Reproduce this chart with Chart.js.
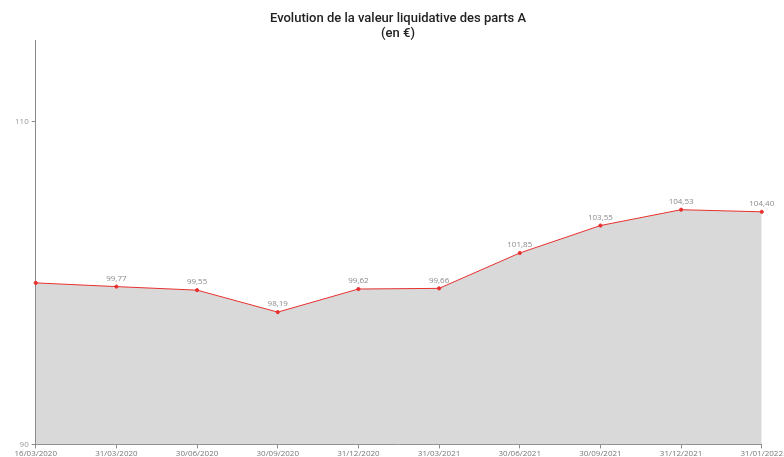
<!DOCTYPE html>
<html lang="fr">
  <head>
    <meta charset="UTF-8" />
    <title>Evolution de la valeur liquidative des parts A</title>
    <script src="https://cdn.jsdelivr.net/npm/chart.js@4.4.0/dist/chart.umd.min.js"></script>
    <style>
      html, body { margin: 0; padding: 0; background: #ffffff; }
      .chart-container { width: 784px; height: 457px; }
    </style>
  </head>
  <body>
    <div class="chart-container">
      <canvas id="vlChart"></canvas>
    </div>
    <script>
      // dates de valorisation
      const dates = ["16/03/2020", "31/03/2020", "30/06/2020", "30/09/2020", "31/12/2020",
        "31/03/2021", "30/06/2021", "30/09/2021", "31/12/2021", "31/01/2022"];
      // valeur liquidative (EUR)
      const valeurs = [100.0, 99.77, 99.55, 98.19, 99.62, 99.66, 101.85, 103.55, 104.53, 104.40];
      // etiquettes affichées (la première n'est pas affichée)
      const etiquettes = ["", "99,77", "99,55", "98,19", "99,62", "99,66", "101,85", "103,55", "104,53", "104,40"];
      const yTicks = [90, 110];

      const gris = "#8a8a8a";

      // draw value labels above points
      const pointLabels = {
        id: "pointLabels",
        afterDatasetsDraw(chart) {
          const ctx = chart.ctx;
          const meta = chart.getDatasetMeta(0);
          ctx.save();
          ctx.font = "8px 'Open Sans', sans-serif";
          ctx.fillStyle = gris;
          ctx.textAlign = "center";
          ctx.textBaseline = "bottom";
          meta.data.forEach((pt, i) => {
            if (etiquettes[i]) ctx.fillText(etiquettes[i], pt.x, pt.y - 4);
          });
          ctx.restore();
        },
      };

      new Chart(document.getElementById("vlChart"), {
        type: "line",
        data: {
          labels: dates,
          datasets: [
            {
              data: valeurs,
              borderColor: "#e8312f",
              borderWidth: 1,
              backgroundColor: "#d9d9d9",
              fill: "origin",
              pointRadius: 1.6,
              pointBackgroundColor: "#e8312f",
              pointBorderColor: "#e8312f",
              tension: 0,
            },
          ],
        },
        options: {
          responsive: true,
          maintainAspectRatio: false,
          animation: false,
          layout: { padding: { left: 12, right: 0, top: 0, bottom: -3 } },
          plugins: {
            legend: { display: false },
            tooltip: { enabled: false },
            title: {
              display: true,
              text: ["Evolution de la valeur liquidative des parts A", "(en €)"],
              color: "#222222",
              font: { family: "Roboto, sans-serif", size: 13, weight: "500", lineHeight: 1.1 },
              padding: { top: 12, bottom: 0 },
            },
          },
          scales: {
            x: {
              offset: false,
              grid: { display: true, drawOnChartArea: false, tickLength: 4, color: gris },
              border: { color: gris },
              ticks: {
                autoSkip: false,
                maxRotation: 0,
                color: "#777777",
                padding: 1,
                font: { family: "'Open Sans', sans-serif", size: 8 },
              },
            },
            y: {
              min: 90,
              max: 115,
              afterBuildTicks: (axis) => {
                axis.ticks = yTicks.map((v) => ({ value: v }));
              },
              grid: { display: true, drawOnChartArea: false, tickLength: 4, color: gris },
              border: { color: gris },
              ticks: {
                color: "#999999",
                padding: 3,
                font: { family: "'Open Sans', sans-serif", size: 8 },
              },
            },
          },
        },
        plugins: [pointLabels],
      });
    </script>
  </body>
</html>
